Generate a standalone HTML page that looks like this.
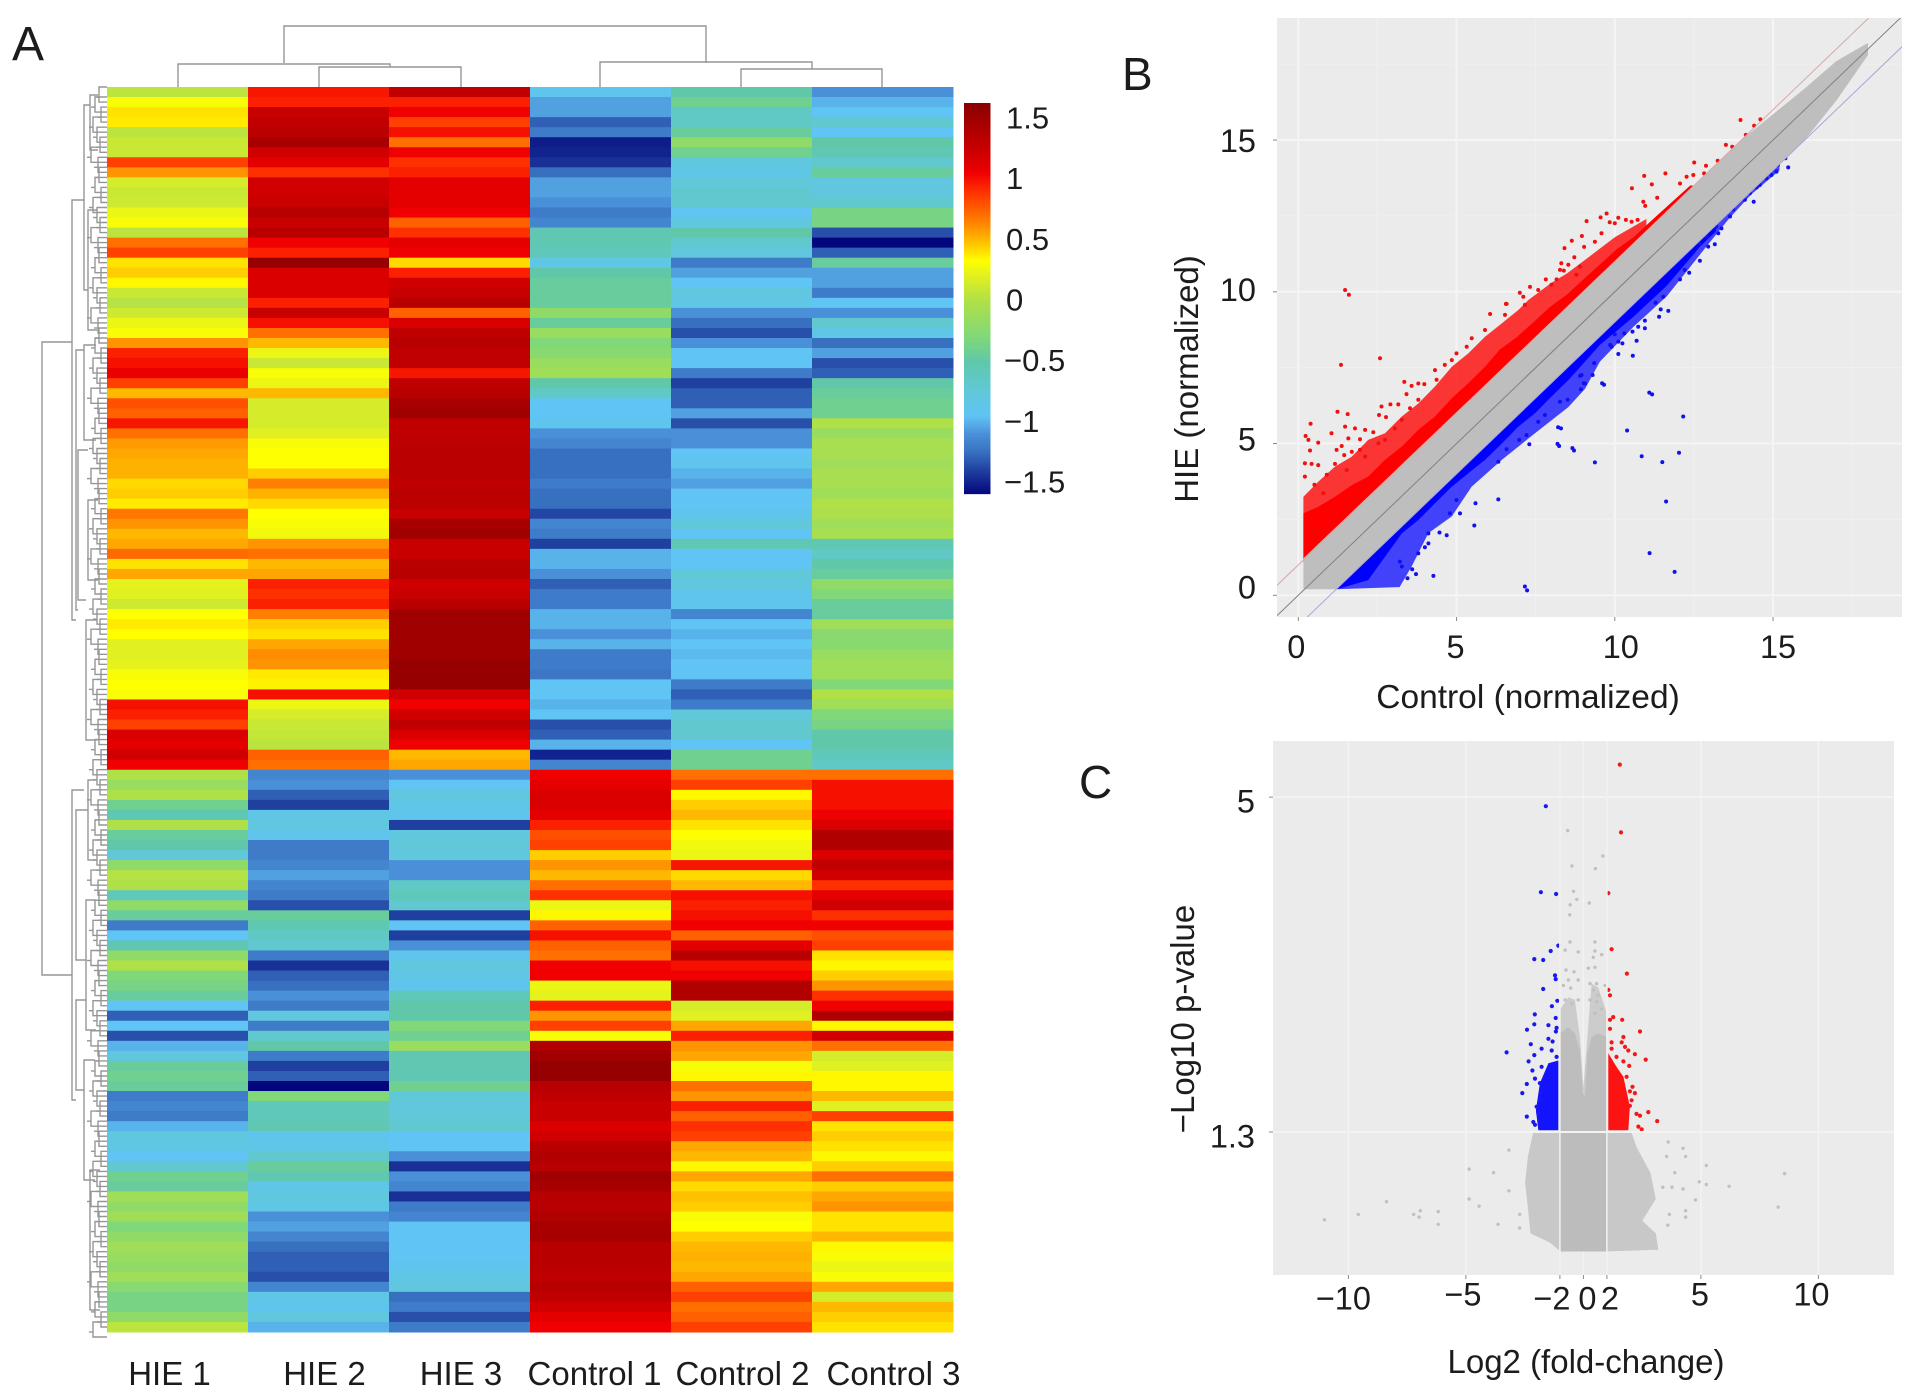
<!DOCTYPE html>
<html lang="en">
<head>
<meta charset="utf-8">
<title>HIE versus Control expression figure</title>
<style>
html,body{margin:0;padding:0;background:#fff;}
svg{display:block;font-family:"Liberation Sans",Arial,sans-serif;}
text{fill:#1c1c1c;}
</style>
</head>
<body>
<svg id="figure" xmlns="http://www.w3.org/2000/svg" width="1913" height="1398" viewBox="0 0 1913 1398">
  <rect width="1913" height="1398" fill="#ffffff"/>
  <defs>
    <clipPath id="clip-b"><rect x="1277" y="18" width="625" height="599"/></clipPath>
    <clipPath id="clip-c"><rect x="1273" y="741" width="621" height="534"/></clipPath>
  </defs>
  <text x="12" y="60" font-size="48">A</text>
  <text x="1122" y="90" font-size="46">B</text>
  <text x="1079" y="798" font-size="46">C</text>

  <g id="heatmap"></g>
  <g id="dendro" fill="none" stroke="#969696" stroke-width="1.4"></g>
  <g id="colorbar"></g>
  <g id="heat-labels"></g>

  <g id="panel-b">
    <rect x="1277" y="18" width="625" height="599" fill="#ebebeb"/>
    <g id="b-grid"></g>
    <g id="b-marks" clip-path="url(#clip-b)"></g>
    <g id="b-axes"></g>
    <text x="1528" y="708" font-size="33.5" text-anchor="middle">Control (normalized)</text>
    <text transform="translate(1198 379) rotate(-90)" font-size="33" text-anchor="middle">HIE (normalized)</text>
  </g>

  <g id="panel-c">
    <rect x="1273" y="741" width="621" height="534" fill="#ebebeb"/>
    <g id="c-grid"></g>
    <g id="c-marks" clip-path="url(#clip-c)"></g>
    <g id="c-top-lines"></g>
    <g id="c-axes"></g>
    <text x="1586" y="1373" font-size="33" text-anchor="middle">Log2 (fold-change)</text>
    <text transform="translate(1194 1019) rotate(-90)" font-size="33" text-anchor="middle">−Log10 p-value</text>
  </g>
</svg>
<script>
/* ---------- Panel A: heatmap values, one number per row ---------- */
const heatColumns = ['HIE 1','HIE 2','HIE 3','Control 1','Control 2','Control 3'];
const hie1 = [.05,.3,.4,.38,.05,.1,.1,.85,.6,.15,.1,.12,.25,.3,.05,.7,.85,.4,.45,.35,.1,.02,.12,.25,.3,.6,.95,1.0,1.08,.85,.5,.8,.75,.98,.7,.58,.55,.52,.52,.42,.45,.38,.68,.6,.5,.55,.72,.4,.55,.22,.2,.12,.33,.38,.33,.2,.2,.22,.3,.33,.3,1.0,.95,.85,1.15,1.1,1.2,1.05,
0,-.15,0,-.4,-.55,0,-.45,-.5,-.75,-.2,.02,0,-.6,-.2,-.45,-1.2,-.95,-.55,-.2,0,-.3,-.35,-.45,-.95,-1.3,-.95,-1.35,-1.0,-.8,-.45,-.4,-.45,-1.2,-1.15,-1.2,-1.0,-.8,-.85,-.95,-.7,-.4,-.45,-.1,-.2,-.1,-.3,-.2,-.1,-.15,-.2,-.1,-.25,-.35,-.35,-.2,.05];
const hie2 = [.98,.95,1.25,1.3,1.33,1.45,1.2,1.1,.9,1.2,1.2,1.25,1.35,1.25,1.35,1.05,.95,1.55,1.15,1.15,1.15,.95,1.25,1.0,.7,.5,.25,.1,.3,.25,.5,.15,.15,.15,.2,.3,.33,.33,.45,.65,.52,.42,.33,.3,.28,.6,.7,.5,.55,.95,.9,.95,.65,.45,.4,.55,.62,.6,.38,.36,1.0,.25,.15,.1,.08,.05,.75,.7,
-1.15,-1.1,-1.3,-1.4,-.85,-.8,-.9,-1.2,-1.2,-1.15,-1.05,-1.15,-1.2,-1.35,-.45,-.55,-.65,-.7,-1.2,-1.45,-1.3,-1.25,-1.1,-1.2,-.8,-1.2,-.7,-.5,-1.2,-1.4,-1.3,-1.6,-.3,-.6,-.6,-.55,-.9,-.85,-.7,-.45,-.55,-.85,-.8,-.85,-1.1,-1.05,-1.15,-1.25,-1.3,-1.3,-1.35,-1.15,-.85,-.9,-.8,-1.0];
const hie3 = [1.3,.95,1.05,.85,1.0,.7,1.05,.9,.95,1.1,1.1,1.1,1.05,.75,.9,1.1,1.05,.42,.95,1.2,1.25,1.35,.75,1.15,1.3,1.35,1.3,1.3,.98,1.3,1.35,1.45,1.5,1.3,1.3,1.32,1.33,1.33,1.33,1.3,1.33,1.33,1.25,1.45,1.5,1.25,1.25,1.33,1.35,1.2,1.25,1.35,1.5,1.5,1.5,1.5,1.5,1.55,1.55,1.55,1.2,1.05,1.2,1.3,1.15,1.05,.5,.55,
-1.1,-.95,-.8,-.85,-.9,-1.4,-.8,-.75,-.8,-1.1,-1.1,-.65,-.6,-.7,-1.4,-.95,-1.4,-1.1,-.9,-.8,-.85,-.9,-.6,-.5,-.5,-.3,-.4,-.15,-.55,-.55,-.55,-.4,-.75,-.8,-.75,-.7,-.95,-.95,-1.1,-1.45,-1.1,-1.15,-1.45,-1.2,-1.15,-.95,-.95,-.95,-.95,-.9,-.85,-.8,-1.25,-1.2,-1.35,-1.2];
const control1 = [-.9,-1.05,-1.05,-1.3,-1.2,-1.52,-1.5,-1.45,-1.25,-1.05,-1.05,-1.1,-1.2,-1.15,-.55,-.55,-.6,-.85,-.5,-.45,-.45,-.45,-.2,-.45,-.15,-.3,-.25,-.15,-.1,-.5,-.65,-.95,-.95,-.9,-1.1,-1.15,-1.25,-1.25,-1.25,-1.2,-1.25,-1.25,-1.38,-1.15,-1.2,-1.4,-1.0,-1.0,-1.1,-1.3,-1.2,-1.2,-1.0,-1.0,-1.1,-1.0,-1.2,-1.2,-1.22,-.95,-.95,-1.0,-.95,-1.35,-1.3,-1.0,-1.5,-1.15,
1.05,1.1,1.15,1.15,1.1,.95,.8,.85,.45,.6,.5,.7,.9,.25,.35,.75,1.0,.75,.7,1.05,1.05,.25,.22,.95,.6,.85,.3,1.4,1.5,1.55,1.55,1.35,1.3,1.25,1.25,1.15,1.2,1.35,1.4,1.35,1.5,1.45,1.35,1.35,1.4,1.45,1.45,1.35,1.35,1.33,1.3,1.35,1.3,1.2,1.1,1.05];
const control2 = [-.5,-.4,-.65,-.65,-.45,-.2,-.4,-.8,-.85,-.75,-.7,-.7,-.95,-.8,-.5,-.7,-.8,-1.2,-1.05,-.95,-.8,-.85,-1.1,-1.25,-1.35,-1.1,-.95,-.95,-1.2,-1.4,-1.3,-1.3,-1.05,-1.35,-1.1,-1.1,-.95,-.9,-1.0,-1.05,-.95,-.95,-.9,-.75,-.95,-.55,-.95,-.95,-.75,-.8,-.9,-.9,-1.15,-.95,-1.0,-.95,-.98,-.95,-.95,-1.2,-1.3,-1.2,-.75,-.7,-.7,-.95,-.4,-.4,
.7,.85,.35,.45,.5,.4,.32,.28,.25,.98,.42,.5,1.0,.95,1.0,1.05,.75,1.1,1.35,1.0,1.05,1.4,1.4,.15,.2,.55,.95,.6,.55,.3,.35,.7,.6,.95,.75,.9,.85,.55,.5,.35,.55,.42,.48,.45,.3,.33,.45,.5,.52,.5,.55,.75,.85,.7,.75,.85];
const control3 = [-1.1,-1.0,-.95,-.7,-.95,-.5,-.55,-.7,-.45,-.8,-.8,-.7,-.35,-.35,-1.35,-1.6,-1.3,-.45,-1.05,-1.05,-1.2,-.95,-1.1,-.7,-.85,-1.25,-1.05,-1.35,-1.3,-.5,-.45,-.4,-.4,0,-.15,-.05,-.05,-.1,-.05,-.05,-.1,0,-.02,-.1,-.05,-.55,-.65,-.5,-.45,-.2,-.3,-.45,-.45,-.1,-.25,-.25,-.15,-.1,-.1,-.3,0,-.1,-.3,-.35,-.5,-.5,-.6,-.65,
.7,1.0,1.0,1.0,1.05,1.15,1.4,1.4,1.15,1.3,1.2,.9,1.1,1.2,.9,1.05,.8,.85,.4,.35,.45,.6,.9,1.05,1.4,.35,1.2,.7,.15,.2,.35,.35,.5,.2,.85,.4,.45,.4,.35,.45,.7,.45,.55,.6,.4,.4,.5,.35,.3,.25,.3,.55,.15,.5,.45,.4];
const heatSeries = [hie1,hie2,hie3,control1,control2,control3];
const colorbarTicks = [1.5,1,0.5,0,-0.5,-1,-1.5];
const colorbarLabels = ['1.5','1','0.5','0','−0.5','−1','−1.5'];

/* ---------- Panel B: scatter ---------- */
const scatterXTicks = [0,5,10,15];
const scatterYTicks = [0,5,10,15];
const scatterXTickLabels = ['0','5','10','15'];
const scatterYTickLabels = ['0','5','10','15'];
const foldLines = [1,0,-1];
const grayTopX = [.16,14,15,16,17,18];
const grayTopY = [1.22,15,15.85,16.7,17.6,18.2];
const grayBottomX = [.16,1.21,14,15,16,17,18];
const grayBottomY = [.2,.2,13,14,15,16.3,17.8];
const redBandX = [.16,.63,1.16,1.69,2.21,2.74,3.27,3.79,4.32,4.85,5.37,5.9,6.37,6.9,7.43,7.95,8.48,9,9.53,10.06,10.59,11.11,11.64,12.17,12.38];
const redBandUpper = [2.7,2.92,3.25,3.63,3.91,4.46,4.9,5.45,5.89,6.49,6.99,7.53,8.1,8.5,9,9.5,9.9,10.4,10.9,11.4,11.8,12.3,12.8,13.3,13.5];
const redBandLower = [1.1,1.55,2.05,2.6,3.1,3.65,4.15,4.7,5.2,5.75,6.3,6.8,7.3,7.8,8.35,8.85,9.4,9.9,10.45,10.95,11.5,12,12.55,13.05,13.3];
const redHazeX = [.16,.63,1.16,1.69,2.21,2.74,3.27,3.79,4.32,4.85,5.37,5.9,6.43,6.95,7.27,8,8.48,9,9.5,10,11];
const redHazeUpper = [3.25,3.74,4.24,4.57,5.12,5.34,5.89,6.32,6.88,7.53,7.97,8.52,8.96,9.4,9.73,10.3,10.6,11,11.4,11.8,12.4];
const redHazeLower = [1.1,1.55,2.05,2.6,3.1,3.65,4.15,4.7,5.2,5.75,6.3,6.8,7.35,7.85,8.2,8.9,9.4,9.9,10.4,10.9,12];
const blueBandX = [1.21,2.21,2.74,3.27,3.79,4.32,4.85,5.37,5.9,6.43,6.95,7.48,8,8.53,9.06,9.53,10.59,11.64,12.38,12.7,13.2];
const blueBandUpper = [.31,1.31,1.84,2.37,2.89,3.42,3.95,4.47,5,5.53,6.05,6.58,7.1,7.63,8.16,8.63,9.69,10.74,11.48,11.8,12.3];
const blueBandLower = [.2,.5,1.27,2.04,2.48,3.03,3.58,4.02,4.46,5,5.56,6,6.55,7.09,7.7,8.25,9.18,10.2,11.1,11.5,12];
const blueHazeX = [1.21,3.2,3.58,4.11,4.85,5.48,6.43,7.48,8.53,9.06,9.53,10.59,11.64,12.9,13.6,14.3,15.2];
const blueHazeUpper = [.31,2.3,2.68,3.21,3.95,4.58,5.53,6.58,7.63,8.16,8.63,9.69,10.74,12,12.7,13.4,14.3];
const blueHazeLower = [.2,.27,.95,2.05,2.6,3.58,4.46,5.34,6.2,6.8,7.7,8.85,9.85,11.5,12.4,13.2,14];
const scatterRedPoints = [[1.48,10.06],[1.6,9.9],[1.35,7.59],[2.58,7.81],[1.24,6.05],[1.56,5.97],[.39,5.65],[1.48,5.56],[1.79,5.5],[1.05,5.34],[2.11,5.45],[2.37,5.37],[1.58,5.17],[.23,5.25],[.32,5.12],[.63,5.03],[1.95,5.14],[1.37,4.92],[1.21,4.79],[.37,4.77],[1.69,4.73],[1.95,4.79],[1.45,4.62],[.21,4.35],[.42,4.33],[.63,4.29],[1.16,4.33],[2.11,4.57],[2.53,5.01],[.21,3.91],[.51,3.64],[.9,3.97],[.79,3.36],[1.53,4.13],[2.63,6.22],[2.91,6.29],[3.16,6.29],[2.55,5.94],[2.77,5.87],[3.35,7.03],[3.58,6.9],[3.79,6.98],[3.98,6.96],[3.42,6.63],[3.53,6.16],[4.37,7.1],[4.32,7.42],[3.27,5.78],[3.05,5.5],[2.74,5.12],[3.79,6.44],[4.63,7.59],[5,7.97],[5.32,8.19],[6.06,9.27],[6.58,9.6],[6.53,9.24],[7.16,9.57],[5.9,8.74],[5.48,8.47],[4.85,7.75],[13.97,15.66],[14.6,15.68],[14.4,15.47],[14.14,15.17],[13.51,14.84],[13.71,14.78],[13.25,14.32],[12.51,14.26],[12.88,14.15],[12.82,13.9],[10.93,13.82],[11.6,13.9],[11.17,13.54],[10.54,13.41],[11.34,13.1],[10.9,12.97],[10.96,12.83],[9.74,12.58],[9.55,12.45],[9.11,12.33],[10.11,12.44],[9.84,12.29],[10,12.26],[10.35,12.37],[10.53,12.31],[10.72,12.37],[8.96,11.84],[9.58,11.93],[8.64,11.68],[8.41,11.44],[9.03,11.48],[9.37,11.65],[8.72,11.14],[8.31,10.94],[8.53,10.89],[8.27,10.72],[8.39,10.7],[7.82,10.41],[8.16,10.41],[7.32,10.16],[8,10.23],[7.58,10.06],[7,9.97],[6.56,9.6],[7.11,9.84],[8.9,10.83],[8.79,10.56],[12.27,13.79],[12.48,13.85],[12.06,13.57],[12.42,13.44]];
const scatterBluePoints = [[4.27,.64],[7.16,.29],[3.72,.7],[3.45,.56],[3.6,.86],[3.27,.95],[3.21,1.11],[3.79,1.38],[4.11,1.71],[4,1.58],[4.69,1.98],[4.46,2.07],[4.11,2.04],[5.56,2.3],[5.11,2.7],[4.79,2.7],[5.6,3.03],[6.32,3.16],[5,3.14],[6.32,4.4],[7.3,4.98],[6.58,4.81],[6.98,5.12],[7.21,5.28],[8.21,5.54],[8.19,4.99],[8.66,4.85],[7.79,5.94],[7.58,5.72],[8.27,6.38],[8.51,6.44],[8.93,6.79],[9.06,6.98],[8.9,7.23],[11.09,6.68],[9.6,6.99],[9.02,6.99],[9.3,7.26],[8.95,7.26],[9.35,7.65],[10.11,7.95],[10.57,7.89],[9.9,8.19],[9.85,8.25],[10.24,8.3],[10.11,8.36],[10.69,8.39],[10,8.6],[10.3,8.63],[10.56,8.69],[10.95,8.8],[10.74,8.85],[10.95,9.05],[11.4,9.18],[11.69,9.37],[11.45,9.42],[11.29,9.64],[11.53,9.84],[12.06,10.41],[12.35,10.63],[12.21,10.72],[12.69,11.02],[13.16,11.57],[12.95,11.49],[12.69,11.6],[12.9,11.82],[13.27,11.93],[13.37,12.09],[13.21,12.15],[13.64,12.48],[13.53,12.59],[13.74,12.72],[14.11,13.03],[14.39,12.97],[14.27,13.25],[14.48,13.44],[14.58,13.52],[14.79,13.74],[14.95,13.85],[15.11,13.96],[15.16,14.18],[15.39,14.4],[15.48,14.1],[11.1,1.39],[11.89,.77],[7.23,.16],[11.62,3.09],[10.85,4.58],[11.5,4.39],[12.03,4.7],[10.39,5.43],[11.18,6.62],[12.16,5.89],[8.3,5.5],[8.24,4.92],[8.71,4.77],[9.37,4.38],[9.66,6.94]];

/* ---------- Panel C: volcano ---------- */
const volcanoXTicks = [-10,-5,-1,0,1,5,10];
const volcanoXTickLabels = ['−10','−5','−2','0','2','5','10'];
const volcanoYTicks = [5,1.3];
const volcanoYTickLabels = ['5','1.3'];
const lobeX = [-1,-1,-.64,-.36,-.15,-.03,.07,.17,.35,.63,1,1];
const lobeY = [1.3,2.39,2.46,2.39,2.2,1.73,1.69,2.17,2.35,2.39,2.35,1.3];
const lobeHazeX = [-1,-1,-.64,-.36,-.15,0,.17,.35,.63,1,1];
const lobeHazeY = [1.3,2.65,2.79,2.76,2.35,1.8,2.35,2.94,2.9,2.61,1.3];
const cloudX = [-2.13,-2.36,-2.48,-2.36,-2.25,-1.44,-.97,.99,3.19,3.08,2.5,3.08,2.85,2.27,2.04];
const cloudY = [1.3,1.03,.74,.46,.18,.08,-.02,-.02,0,.18,.32,.56,.85,1.13,1.3];
const coreX = [-1,1,1,-1];
const coreY = [-.02,-.02,1.3,1.3];
const upRegionX = [1.06,1.06,1.41,1.7,1.98,1.91];
const upRegionY = [1.32,2.17,2.02,1.91,1.58,1.32];
const downRegionX = [-1.07,-1.07,-1.49,-1.85,-2.02,-1.92];
const downRegionY = [1.32,2.09,2.06,1.84,1.54,1.32];
const volcanoRedPoints = [[1.55,5.36],[1.6,4.61],[1.06,3.94],[1.2,3.32],[1.85,3.05],[1.06,2.87],[1.13,2.81],[1.27,2.57],[1.13,2.54],[1.65,2.54],[1.13,2.44],[2.41,2.41],[1.7,2.35],[1.2,2.29],[1.63,2.29],[1.77,2.24],[1.91,2.2],[2.19,2.16],[2.65,2.1],[1.41,2.13],[1.7,2.08],[1.95,2.03],[1.84,1.91],[2.09,1.8],[2.19,1.73],[1.98,1.75],[2.05,1.65],[1.98,1.59],[2.26,1.5],[2.41,1.48],[2.76,1.52],[3.14,1.42],[2.34,1.36],[2.48,1.33],[1.2,2.22]];
const volcanoBluePoints = [[-1.6,4.9],[-1.81,3.95],[-1.16,3.93],[-1.07,3.36],[-1.39,3.3],[-2.09,3.21],[-1.71,3.2],[-1.21,3.03],[-1.18,2.99],[-1.71,2.88],[-1.11,2.75],[-1.34,2.69],[-2.07,2.6],[-1.18,2.56],[-2.09,2.49],[-1.49,2.48],[-1.14,2.45],[-2.4,2.43],[-1.17,2.41],[-1.49,2.33],[-1.31,2.3],[-2.24,2.27],[-1.78,2.22],[-1.35,2.2],[-3.27,2.18],[-2.09,2.15],[-1.14,2.13],[-2.33,2.08],[-2.17,1.98],[-1.78,2.02],[-2.41,1.83],[-2.6,1.73],[-1.85,1.84],[-2.06,1.89],[-1.78,1.74],[-2.41,1.47],[-2.13,1.41],[-2.06,1.38],[-1.92,1.51],[-1.85,1.65],[-1.99,1.58]];
const volcanoGrayPoints = [[-.67,4.63],[.83,4.35],[-.49,4.24],[.51,4.21],[-.42,3.96],[-.28,3.87],[.25,3.83],[-.56,3.81],[-.58,3.7],[-.57,3.4],[.49,3.4],[-.78,3.31],[-.22,3.29],[.49,3.3],[.42,3.23],[.78,3.26],[-.74,3.09],[-.4,3.07],[.21,3.11],[.49,3.12],[-.64,2.98],[-.22,2.98],[.28,2.94],[.56,2.94],[.92,2.92],[-.85,2.92],[-.54,2.89],[.42,2.87],[.63,2.81],[-.22,2.76],[-.78,2.76],[.28,2.76],[.56,2.74],[-.5,2.72],[.78,2.66],[.49,2.61],[-11.02,.33],[-9.58,.39],[-8.38,.53],[-7.22,.39],[-6.94,.43],[-6.99,.36],[-6.18,.42],[-6.18,.28],[-4.86,.89],[-4.86,.56],[-4.44,.48],[-3.82,.85],[-3.63,.28],[-3.17,1.1],[-3.17,.65],[-2.71,.39],[-2.71,.24],[8.56,.84],[8.29,.47],[6.2,.7],[5.23,.93],[5.23,.72],[4.77,.55],[4.93,.75],[4.35,.43],[4.35,.36],[3.61,1.19],[4.24,1.12],[4.35,1.03],[3.59,.27],[3.66,.39],[3.38,.69],[3.77,.69],[4.24,.67],[3.54,1.03],[3.89,.85]];

/* ---------- Dendrogram merges: branch x, top y, bottom y, child x top, child x bottom ---------- */
const rowDendro = [[42,342,975,72,72],[72,200,620,84,76],[72,790,1100,84,76],[84,105,290,90,88],[90,95,150,98,98],[88,210,330,97,97],[76,350,610,84,78],[84,345,440,96,96],[78,450,600,88,86],[76,810,960,88,86],[76,1000,1090,86,84],[88,780,860,97,97],[86,900,1030,96,96],[84,1060,1180,95,95],[90,1170,1310,100,100],[86,620,740,97,97],[88,500,580,98,98]];
const tuftDepths = [8,12,6,14,10,7,16,9];
const colDendro = [[284,706,26,63,63],[178,390,64,87,67],[319,461,67,87,87],[600,812,62,87,69],[741,882,69,87,87]];

/* ---------- Scales ---------- */
const NS = 'http://www.w3.org/2000/svg';
const heatLeft = 107, heatRight = 953, heatTop = 87, heatBottom = 1332;
const rowHeight = (heatBottom - heatTop) / hie1.length;
const colWidth = (heatRight - heatLeft) / heatSeries.length;
const colorbarY = v => 299.5 - v * 121.3;
const bX = v => 1298.3 + v * 31.65;
const bY = v => 595.3 - v * 30.35;
const cX = v => 1583.4 + v * 23.5;
const cY = v => 1132 - (v - 1.3) * 90.5;
const colorStops = [[-1.62,0,0,120],[-1.4,32,64,160],[-1.25,56,112,192],[-1.1,74,144,216],[-.95,96,196,244],[-.75,96,200,216],[-.5,96,200,168],[-.3,128,216,120],[0,176,224,72],[.2,224,240,32],[.33,255,255,0],[.48,255,192,0],[.65,255,128,0],[.9,255,48,0],[1.05,240,0,0],[1.2,208,0,0],[1.35,184,0,0],[1.62,140,0,0]];
function heatColor(v){
  let i = 0;
  if (v <= colorStops[0][0]) i = 0;
  else { while (i < colorStops.length - 2 && v > colorStops[i + 1][0]) i++; }
  const a = colorStops[i], b = colorStops[i + 1];
  const t = Math.max(0, Math.min(1, (v - a[0]) / (b[0] - a[0])));
  return 'rgb(' + [1,2,3].map(k => Math.round(a[k] + (b[k] - a[k]) * t)).join(',') + ')';
}
function polyPoints(xs, ys, sx, sy){
  return xs.map((x, i) => sx(x).toFixed(1) + ',' + sy(ys[i]).toFixed(1)).join(' ');
}
function bandPoints(xs, upper, lower, sx, sy){
  return polyPoints(xs, upper, sx, sy) + ' ' + polyPoints(xs.slice().reverse(), lower.slice().reverse(), sx, sy);
}

/* ---------- Heatmap ---------- */
const heatG = document.getElementById('heatmap');
heatSeries.forEach((series, c) => {
  series.forEach((value, r) => {
    const el = document.createElementNS(NS, 'rect');
    el.setAttribute('x', heatLeft + c * colWidth);
    el.setAttribute('y', heatTop + r * rowHeight);
    el.setAttribute('width', colWidth + 0.5);
    el.setAttribute('height', rowHeight + 0.5);
    el.setAttribute('fill', heatColor(value));
    
    
    heatG.appendChild(el);
  });
});
const labelG = document.getElementById('heat-labels');
const heatLabelNudge = [-8,6,1.5,-6,1,11];
heatColumns.forEach((name, c) => {
  const el = document.createElementNS(NS, 'text');
  el.setAttribute('x', heatLeft + (c + .5) * colWidth + heatLabelNudge[c]);
  el.setAttribute('y', 1385);
  el.setAttribute('font-size', 33);
  el.setAttribute('text-anchor', 'middle');
  
  
  el.textContent = name;
  labelG.appendChild(el);
});

/* ---------- Dendrograms ---------- */
const dendroG = document.getElementById('dendro');
function addDendroPath(d){
  const el = document.createElementNS(NS, 'path');
  el.setAttribute('d', d);
  
  
  dendroG.appendChild(el);
}
rowDendro.forEach(b => addDendroPath('M' + b[3] + ' ' + b[1] + 'H' + b[0] + 'V' + b[2] + 'H' + b[4]));
colDendro.forEach(b => addDendroPath('M' + b[0] + ' ' + b[3] + 'V' + b[2] + 'H' + b[1] + 'V' + b[4]));
hie1.forEach((_, r) => {
  const y = heatTop + r * rowHeight;
  const d = tuftDepths[r % tuftDepths.length];
  addDendroPath('M107 ' + y.toFixed(1) + 'H' + (107 - d) + 'V' + (y + rowHeight * 1.5).toFixed(1) + 'H107');
  addDendroPath('M' + (107 - d) + ' ' + (y + rowHeight).toFixed(1) + 'H' + (107 - d - 4));
});

/* ---------- Colorbar ---------- */
const cbG = document.getElementById('colorbar');
for (let v = 1.62; v > -1.59; v -= 0.02) {
  const el = document.createElementNS(NS, 'rect');
  el.setAttribute('x', 964);
  el.setAttribute('y', colorbarY(v));
  el.setAttribute('width', 26.5);
  el.setAttribute('height', 3);
  el.setAttribute('fill', heatColor(v));
  
  
  cbG.appendChild(el);
}
colorbarTicks.forEach((v, i) => {
  const el = document.createElementNS(NS, 'text');
  el.setAttribute('x', v < 0 ? 1004 : 1006);
  el.setAttribute('y', colorbarY(v) + 11);
  el.setAttribute('font-size', 31);
  
  
  el.textContent = colorbarLabels[i];
  cbG.appendChild(el);
});

/* ---------- Shared mark helpers ---------- */
function addPolygon(parent, points, fill, opacity){
  const el = document.createElementNS(NS, 'polygon');
  el.setAttribute('points', points);
  el.setAttribute('fill', fill);
  el.setAttribute('fill-opacity', opacity);
  
  
  parent.appendChild(el);
}
function addDots(parent, pts, sx, sy, r, fill){
  pts.forEach(p => {
    const el = document.createElementNS(NS, 'circle');
    el.setAttribute('cx', sx(p[0]).toFixed(1));
    el.setAttribute('cy', sy(p[1]).toFixed(1));
    el.setAttribute('r', r);
    el.setAttribute('fill', fill);
    
    
    parent.appendChild(el);
  });
}
function addLine(parent, x1, y1, x2, y2, stroke, width){
  const el = document.createElementNS(NS, 'line');
  el.setAttribute('x1', x1);
  el.setAttribute('y1', y1);
  el.setAttribute('x2', x2);
  el.setAttribute('y2', y2);
  el.setAttribute('stroke', stroke);
  el.setAttribute('stroke-width', width);
  
  
  parent.appendChild(el);
}
function addLabel(parent, x, y, str, anchor){
  const el = document.createElementNS(NS, 'text');
  el.setAttribute('x', x);
  el.setAttribute('y', y);
  el.setAttribute('font-size', 32.5);
  el.setAttribute('text-anchor', anchor);
  
  
  el.textContent = str;
  parent.appendChild(el);
}

/* ---------- Panel B ---------- */
const bGrid = document.getElementById('b-grid');
const bMarks = document.getElementById('b-marks');
const bAxes = document.getElementById('b-axes');
scatterXTicks.forEach(v => {
  addLine(bGrid, bX(v), 18, bX(v), 617, '#f5f5f5', 2);
  addLine(bGrid, bX(v + 2.5), 18, bX(v + 2.5), 617, '#f0f0f0', 1);
  addLine(bAxes, bX(v), 617, bX(v), 621, '#888888', 1);
});
scatterYTicks.forEach(v => {
  addLine(bGrid, 1277, bY(v), 1902, bY(v), '#f5f5f5', 2);
  addLine(bGrid, 1277, bY(v + 2.5), 1902, bY(v + 2.5), '#f0f0f0', 1);
  addLine(bAxes, 1273, bY(v), 1277, bY(v), '#888888', 1);
});
addPolygon(bMarks, bandPoints(redHazeX, redHazeUpper, redHazeLower, bX, bY), '#ff0000', 0.78);
addPolygon(bMarks, bandPoints(blueHazeX, blueHazeUpper, blueHazeLower, bX, bY), '#0000ff', 0.72);
addPolygon(bMarks, bandPoints(redBandX, redBandUpper, redBandLower, bX, bY), '#ff0000', 1);
addPolygon(bMarks, bandPoints(blueBandX, blueBandUpper, blueBandLower, bX, bY), '#0000ff', 1);
addDots(bMarks, scatterRedPoints, bX, bY, 2, '#f01010');
addDots(bMarks, scatterBluePoints, bX, bY, 2, '#1010f0');
addPolygon(bMarks, polyPoints(grayTopX, grayTopY, bX, bY) + ' ' + polyPoints(grayBottomX.slice().reverse(), grayBottomY.slice().reverse(), bX, bY), '#bebebe', 1);
const foldColors = ['#d8a8a8','#808080','#a8a8d8'];
foldLines.forEach((offset, i) => {
  addLine(bMarks, bX(-2), bY(-2 + offset), bX(20), bY(20 + offset), foldColors[i], 1);
});
const scatterXLabelNudge = [-2,-1,6,5];
const scatterYLabelNudge = [3,7,9,12];
scatterXTicks.forEach((v, i) => addLabel(bAxes, bX(v) + scatterXLabelNudge[i], 658, scatterXTickLabels[i], 'middle'));
scatterYTicks.forEach((v, i) => addLabel(bAxes, 1256, bY(v) + scatterYLabelNudge[i], scatterYTickLabels[i], 'end'));

/* ---------- Panel C ---------- */
const cGrid = document.getElementById('c-grid');
const cMarks = document.getElementById('c-marks');
const cTop = document.getElementById('c-top-lines');
const cAxes = document.getElementById('c-axes');
volcanoXTicks.forEach(v => {
  addLine(cGrid, cX(v), 741, cX(v), 1275, '#f3f3f3', 1.5);
  addLine(cAxes, cX(v), 1275, cX(v), 1279, '#888888', 1);
});
volcanoYTicks.forEach(v => {
  addLine(cGrid, 1273, cY(v), 1894, cY(v), '#f3f3f3', 2);
  addLine(cAxes, 1269, cY(v), 1273, cY(v), '#888888', 1);
});
addPolygon(cMarks, polyPoints(cloudX, cloudY, cX, cY), '#c8c8c8', 1);
addPolygon(cMarks, polyPoints(coreX, coreY, cX, cY), '#bcbcbc', 1);
addPolygon(cMarks, polyPoints(lobeHazeX, lobeHazeY, cX, cY), '#bfbfbf', 0.7);
addPolygon(cMarks, polyPoints(lobeX, lobeY, cX, cY), '#bdbdbd', 1);
addPolygon(cMarks, polyPoints(upRegionX, upRegionY, cX, cY), '#ff0000', 0.92);
addPolygon(cMarks, polyPoints(downRegionX, downRegionY, cX, cY), '#0000ff', 0.92);
addDots(cMarks, volcanoGrayPoints, cX, cY, 1.7, '#c0c0c0');
addDots(cMarks, volcanoRedPoints, cX, cY, 2.1, '#f01818');
addDots(cMarks, volcanoBluePoints, cX, cY, 2.1, '#1818f0');
addLine(cTop, 1273, cY(1.3), 1894, cY(1.3), '#f3f3f3', 2);
addLine(cTop, cX(-1), 741, cX(-1), 1275, '#f0f0f0', 1.6);
addLine(cTop, cX(1), 741, cX(1), 1275, '#f0f0f0', 1.6);
const volcanoXLabelNudge = [-5,-3,-8,4,3,-1,-7];
const volcanoXLabelLift = [0,4,0,0,0,4,4];
volcanoXTicks.forEach((v, i) => addLabel(cAxes, cX(v) + volcanoXLabelNudge[i], 1309.5 - volcanoXLabelLift[i], volcanoXTickLabels[i], 'middle'));
volcanoYTicks.forEach((v, i) => addLabel(cAxes, 1255, cY(v) + 15.5, volcanoYTickLabels[i], 'end'));
</script>
</body>
</html>
